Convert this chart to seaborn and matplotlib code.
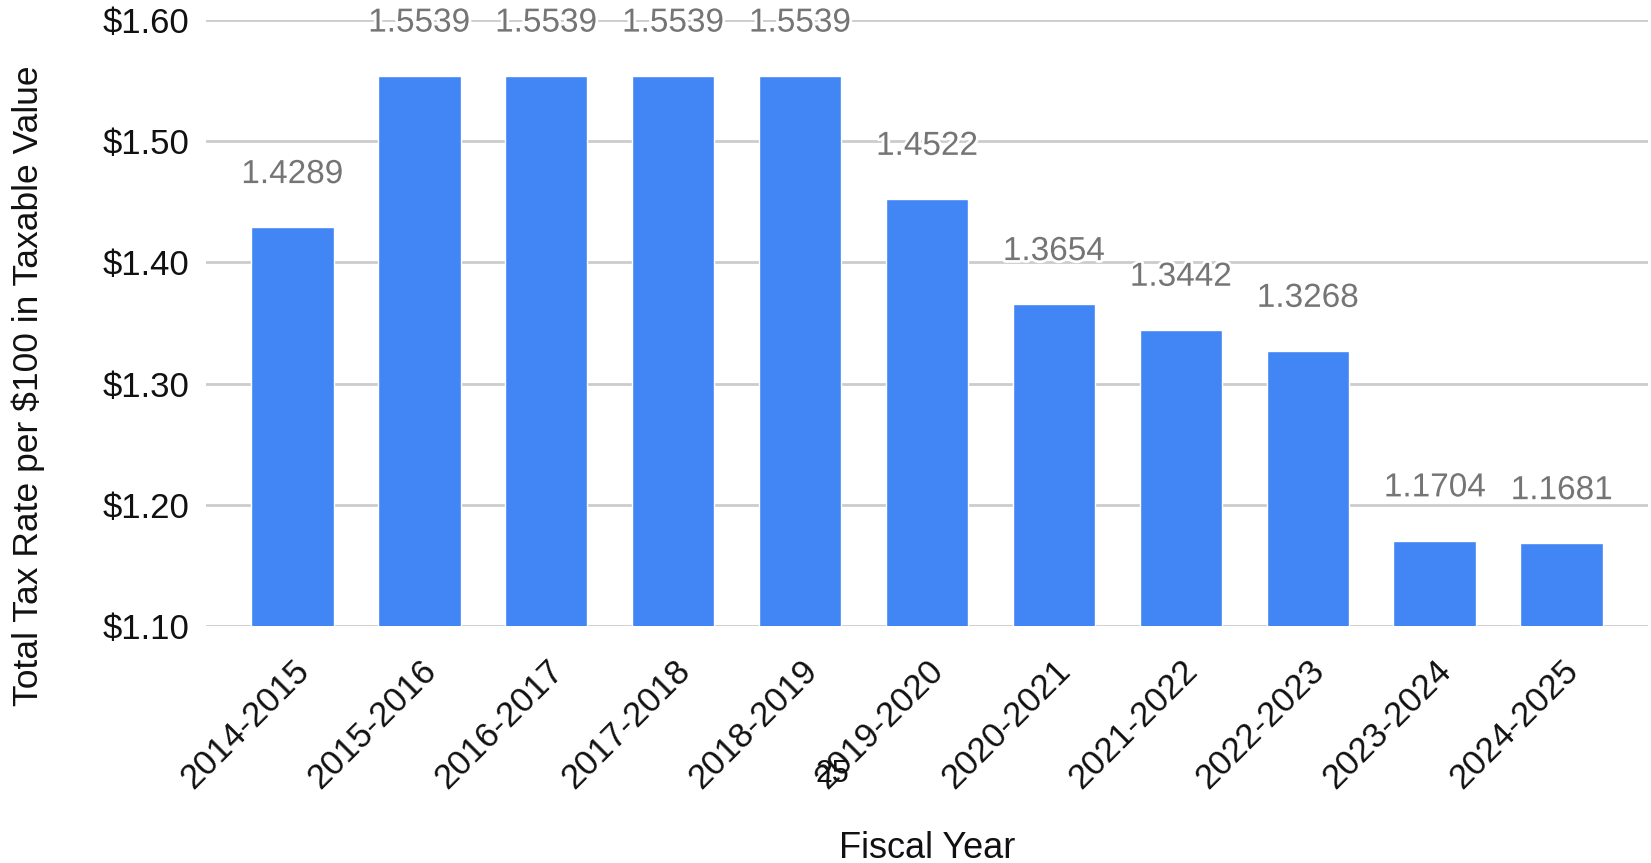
import matplotlib
matplotlib.use("Agg")
import matplotlib.pyplot as plt
import matplotlib.patheffects as pe
import seaborn as sns
import pandas as pd

fiscal_years = ["2014-2015", "2015-2016", "2016-2017", "2017-2018", "2018-2019",
                "2019-2020", "2020-2021", "2021-2022", "2022-2023", "2023-2024",
                "2024-2025"]
tax_rates = [1.4289, 1.5539, 1.5539, 1.5539, 1.5539, 1.4522, 1.3654, 1.3442,
             1.3268, 1.1704, 1.1681]
y_ticks = [1.10, 1.20, 1.30, 1.40, 1.50, 1.60]

df = pd.DataFrame({"year": fiscal_years, "rate": tax_rates})

sns.set_theme(style="white")
plt.rcParams["font.family"] = ["Liberation Sans", "DejaVu Sans"]

fig = plt.figure(figsize=(16.51, 8.63), dpi=100)
ax = fig.add_axes([206 / 1651, 1 - 626 / 863, (1648 - 206) / 1651, (626 - 20) / 863])

sns.barplot(data=df, x="year", y="rate", color="#4285F4", saturation=1,
            width=0.65, ax=ax, zorder=3)

ax.set_ylim(1.10, 1.60)
ax.set_xlim(-0.68, len(fiscal_years) - 1 + 0.68)
ax.set_yticks(y_ticks)
ax.set_yticklabels([f"${t:.2f}" for t in y_ticks], fontsize=25, color="#111111")
ax.yaxis.grid(True, color="#cccccc", linewidth=2, zorder=0)
ax.set_axisbelow(True)
for s in ax.spines.values():
    s.set_visible(False)
ax.tick_params(axis="y", length=0, pad=12)
ax.tick_params(axis="x", length=0, pad=20)
ax.set_xticks(range(len(fiscal_years)))
ax.set_xticklabels(fiscal_years, rotation=45, ha="right", va="top",
                   rotation_mode="anchor", fontsize=25, color="#111111")
ax.set_xlabel("")
ax.set_ylabel("")

for i, v in enumerate(tax_rates):
    ax.annotate(f"{v:.4f}", (i, v), xytext=(0, 38), textcoords="offset points",
                ha="center", va="center", fontsize=24, color="#757575", zorder=5,
                path_effects=[pe.withStroke(linewidth=4, foreground="white")])

fig.text(28 / 1651, 1 - 386 / 863, "Total Tax Rate per $100 in Taxable Value",
         rotation=90, ha="center", va="center", fontsize=25.5, color="#111111")
fig.text(927 / 1651, 1 - 848 / 863, "Fiscal Year", ha="center", va="center",
         fontsize=26, color="#111111")
fig.text(832 / 1651, 1 - 774 / 863, "25", ha="center", va="center",
         fontsize=22, color="#111111")

fig.savefig("out.png", dpi=100, facecolor="white")
